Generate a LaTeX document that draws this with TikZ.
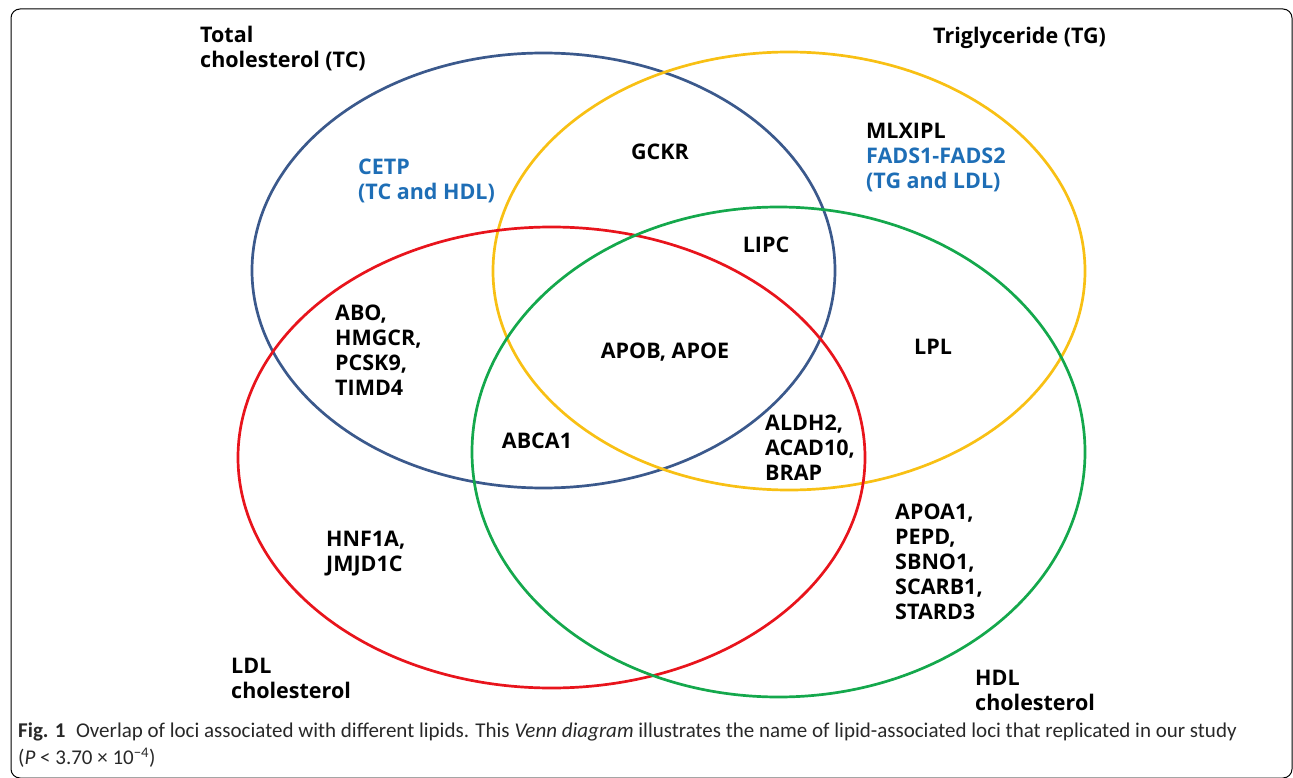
\documentclass[tikz,border=0pt]{standalone}
\usepackage{fontspec}
\setmainfont{Open Sans}
\newfontfamily\capfont{Carlito}
\usepackage{tikz}
\usetikzlibrary{positioning}
\usepackage{xcolor}
\definecolor{tcblue}{RGB}{59,89,140}
\definecolor{tgyellow}{RGB}{248,192,20}
\definecolor{ldlred}{RGB}{232,20,28}
\definecolor{hdlgreen}{RGB}{20,168,76}
\definecolor{locblue}{RGB}{30,110,182}
\definecolor{capgray}{RGB}{40,40,40}

\begin{document}
\begin{tikzpicture}[x=1pt, y=-1pt,
    setline/.style={line width=2.7pt},
    lbl/.style={font=\fontsize{21.5}{25}\selectfont\bfseries, align=left, inner sep=0pt, anchor=west},
    loclbl/.style={lbl, text=locblue},
    caplbl/.style={font=\capfont\fontsize{21}{27}\selectfont, text=capgray, align=left, inner sep=0pt, anchor=north west}]
            \useasboundingbox (0,0) rectangle (1293,778);
            \draw[line width=1pt, rounded corners=9pt] (11,9) rectangle (1292,778);
            \draw[setline, tcblue] (543.5,270.5) ellipse [x radius=291.5pt, y radius=217.5pt];
            \draw[setline, tgyellow] (789,271) ellipse [x radius=296pt, y radius=219pt];
            \draw[setline, ldlred] (551.5,457.5) ellipse [x radius=313.5pt, y radius=230.5pt];
            \draw[setline, hdlgreen] (778.5,452) ellipse [x radius=306.5pt, y radius=245pt];
            \node[lbl] (tcname) at (200,49) {Total\\cholesterol (TC)};
            \node[lbl] (tgname) at (933,38) {Triglyceride (TG)};
            \node[lbl] (ldlname) at (231,678) {LDL\\cholesterol};
            \node[lbl] (hdlname) at (975,690) {HDL\\cholesterol};
            \node[loclbl] (cetp) at (358,181) {CETP\\(TC and HDL)};
            \node[lbl, anchor=center] (gckr) at (660,152) {GCKR};
            \node[lbl] (mlxipl) at (866,158) {MLXIPL\\\textcolor{locblue}{FADS1-FADS2}\\\textcolor{locblue}{(TG and LDL)}};
            \node[lbl, anchor=center] (lipc) at (766,245) {LIPC};
            \node[lbl] (abo) at (335,350) {ABO,\\HMGCR,\\PCSK9,\\TIMD4};
            \node[lbl, anchor=center] (apob) at (665,352) {APOB, APOE};
            \node[lbl, anchor=center] (abca) at (537,441) {ABCA1};
            \node[lbl] (aldh) at (765,448) {ALDH2,\\ACAD10,\\BRAP};
            \node[lbl, anchor=center] (lpl) at (933,347) {LPL};
            \node[lbl] (hnf) at (326,554) {HNF1A,\\JMJD1C};
            \node[lbl] (apoa) at (895,562) {APOA1,\\PEPD,\\SBNO1,\\SCARB1,\\STARD3};
            \node[caplbl] (cap) at (18,723) {\textbf{Fig. 1}\enspace Overlap of loci associated with different lipids. This \textit{Venn diagram} illustrates the name of lipid-associated loci that replicated in our study\\(\textit{P} < 3.70 × 10\textsuperscript{−4})};
\end{tikzpicture}
\end{document}
